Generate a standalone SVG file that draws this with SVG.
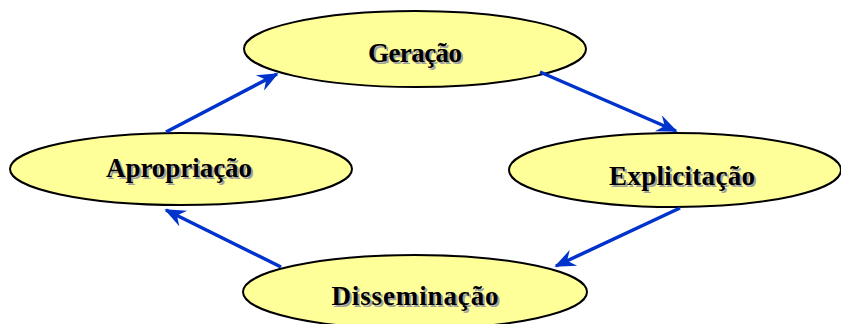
<svg xmlns="http://www.w3.org/2000/svg" width="841" height="324" viewBox="0 0 841 324">
<style>
.node ellipse{fill:#FFFF99;stroke:#000;stroke-width:2}
.lbl{font-family:"Liberation Serif","Times New Roman",serif;font-weight:bold;font-size:27px;text-anchor:middle}
.sh{fill:#A0A0A0}
.tx{fill:#000}
.conn line{stroke:#0033CC;stroke-width:3.5;fill:none}
</style>
<defs>
<marker id="ah" viewBox="0 0 12 10" refX="11" refY="5" markerWidth="6.4" markerHeight="5" orient="auto" markerUnits="strokeWidth">
<path d="M0,0 L12,5 L0,10 L4,5 Z" fill="#0033CC"/>
</marker>
</defs>
<rect width="841" height="324" fill="#fff"/>
<g id="node-geracao" class="node">
<ellipse cx="415" cy="49" rx="171" ry="38"/>
<text class="lbl sh" x="417" y="64" textLength="94" lengthAdjust="spacing">Geração</text>
<text class="lbl tx" x="415" y="62" textLength="94" lengthAdjust="spacing">Geração</text>
</g>
<g id="node-explicitacao" class="node">
<ellipse cx="675" cy="170" rx="166" ry="37"/>
<text class="lbl sh" x="684" y="187" textLength="146" lengthAdjust="spacing">Explicitação</text>
<text class="lbl tx" x="682" y="185" textLength="146" lengthAdjust="spacing">Explicitação</text>
</g>
<g id="node-apropriacao" class="node">
<ellipse cx="181" cy="169" rx="171" ry="36"/>
<text class="lbl sh" x="181" y="179" textLength="146" lengthAdjust="spacing">Apropriação</text>
<text class="lbl tx" x="179" y="177" textLength="146" lengthAdjust="spacing">Apropriação</text>
</g>
<g id="node-disseminacao" class="node">
<ellipse cx="415" cy="292" rx="172" ry="37"/>
<text class="lbl sh" x="417" y="307" textLength="167" lengthAdjust="spacing">Disseminação</text>
<text class="lbl tx" x="415" y="305" textLength="167" lengthAdjust="spacing">Disseminação</text>
</g>
<g id="connectors" class="conn">
<line x1="166" y1="132" x2="277" y2="74" marker-end="url(#ah)"/>
<line x1="540" y1="72" x2="676" y2="131" marker-end="url(#ah)"/>
<line x1="680" y1="208" x2="556" y2="266" marker-end="url(#ah)"/>
<line x1="281" y1="267" x2="166" y2="210" marker-end="url(#ah)"/>
</g>
</svg>
